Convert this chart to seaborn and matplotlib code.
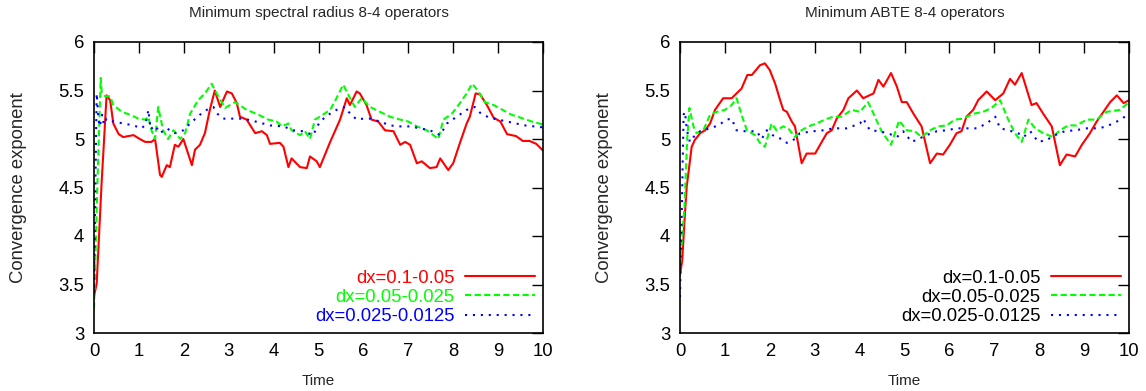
import matplotlib
matplotlib.use("Agg")
import matplotlib.pyplot as plt
import pandas as pd
import seaborn as sns

# ---- data: convergence exponent vs time ----
series_labels = ["dx=0.1-0.05", "dx=0.05-0.025", "dx=0.025-0.0125"]
series_colors = ["#ff0000", "#00ff00", "#0000ff"]
x_ticks = [0, 1, 2, 3, 4, 5, 6, 7, 8, 9, 10]
y_ticks = [3, 3.5, 4, 4.5, 5, 5.5, 6]
y_tick_labels = ["3", "3.5", "4", "4.5", "5", "5.5", "6"]
titles = ["Minimum spectral radius 8-4 operators", "Minimum ABTE 8-4 operators"]

# spectral radius panel
sr_coarse_t = [0, 0.06, 0.17, 0.28, 0.36, 0.43, 0.55, 0.65, 0.88, 1.02, 1.14, 1.28, 1.36, 1.47, 1.51,
               1.62, 1.69, 1.80, 1.88, 1.99, 2.18, 2.25, 2.36, 2.47, 2.58, 2.69, 2.81, 2.96, 3.07, 3.18,
               3.25, 3.40, 3.59, 3.74, 3.85, 3.92, 4.14, 4.22, 4.33, 4.40, 4.59, 4.74, 4.81, 4.96, 5.03,
               5.26, 5.48, 5.63, 5.70, 5.85, 5.92, 6.07, 6.18, 6.33, 6.48, 6.67, 6.82, 6.93, 7.04, 7.19,
               7.30, 7.48, 7.63, 7.71, 7.89, 8.00, 8.15, 8.30, 8.37, 8.50, 8.60, 8.75, 8.90, 9.05, 9.20,
               9.40, 9.55, 9.70, 9.85, 10.0]
sr_coarse_v = [3.38, 3.51, 4.55, 5.45, 5.40, 5.16, 5.05, 5.02, 5.04, 5.00, 4.97, 4.97, 5.00, 4.63, 4.61,
               4.73, 4.71, 4.94, 4.92, 5.00, 4.73, 4.89, 4.94, 5.06, 5.30, 5.50, 5.33, 5.49, 5.47, 5.37,
               5.23, 5.20, 5.06, 5.08, 5.04, 4.95, 4.96, 4.92, 4.71, 4.80, 4.71, 4.70, 4.82, 4.77, 4.71,
               4.97, 5.20, 5.42, 5.35, 5.49, 5.47, 5.35, 5.20, 5.18, 5.09, 5.08, 4.94, 4.97, 4.94, 4.75,
               4.77, 4.70, 4.71, 4.80, 4.68, 4.75, 4.96, 5.16, 5.23, 5.47, 5.46, 5.35, 5.22, 5.18, 5.05,
               5.03, 4.98, 4.98, 4.95, 4.88]

sr_mid_t = [0, 0.08, 0.15, 0.17, 0.25, 0.36, 0.43, 0.62, 0.80, 0.99, 1.14, 1.21, 1.28, 1.36, 1.43,
            1.54, 1.65, 1.77, 1.92, 2.03, 2.14, 2.32, 2.47, 2.62, 2.73, 2.92, 3.14, 3.40, 3.62, 3.88,
            4.07, 4.18, 4.33, 4.40, 4.59, 4.70, 4.81, 4.92, 5.03, 5.26, 5.40, 5.55, 5.67, 5.81, 5.96,
            6.15, 6.37, 6.59, 6.82, 7.00, 7.19, 7.41, 7.67, 7.78, 7.97, 8.15, 8.30, 8.42, 8.55, 8.70,
            8.90, 9.10, 9.30, 9.50, 9.75, 10.0]
sr_mid_v = [3.25, 4.60, 5.63, 5.49, 5.44, 5.44, 5.35, 5.28, 5.25, 5.21, 5.20, 5.23, 5.09, 5.00, 5.33,
            5.09, 5.00, 5.09, 5.00, 5.06, 5.26, 5.40, 5.47, 5.57, 5.47, 5.32, 5.38, 5.30, 5.26, 5.20,
            5.18, 5.13, 5.16, 5.09, 5.04, 5.08, 5.00, 5.20, 5.23, 5.30, 5.42, 5.56, 5.45, 5.33, 5.42,
            5.33, 5.28, 5.23, 5.20, 5.18, 5.13, 5.09, 5.00, 5.20, 5.26, 5.37, 5.47, 5.57, 5.50, 5.38,
            5.35, 5.30, 5.25, 5.22, 5.18, 5.15]

sr_fine_t = [0, 0.03, 0.06, 0.10, 0.13, 0.18, 0.22, 0.28, 0.43, 0.65, 0.88, 1.06, 1.15, 1.21, 1.26,
             1.36, 1.47, 1.62, 1.80, 1.99, 2.14, 2.36, 2.51, 2.66, 2.75, 2.88, 3.10, 3.33, 3.60, 3.92,
             4.22, 4.44, 4.66, 4.88, 5.03, 5.22, 5.40, 5.59, 5.67, 5.85, 6.00, 6.15, 6.37, 6.59, 6.82,
             7.04, 7.26, 7.48, 7.71, 7.86, 8.08, 8.30, 8.48, 8.60, 8.80, 9.00, 9.30, 9.60, 10.0]
sr_fine_v = [3.47, 4.50, 5.47, 5.20, 5.13, 5.25, 5.15, 5.21, 5.18, 5.16, 5.14, 5.11, 5.15, 5.30, 5.10,
             5.14, 5.06, 5.11, 5.06, 5.09, 5.16, 5.25, 5.30, 5.33, 5.26, 5.21, 5.21, 5.21, 5.18, 5.14,
             5.13, 5.09, 5.08, 5.04, 5.18, 5.25, 5.30, 5.33, 5.28, 5.20, 5.21, 5.21, 5.18, 5.14, 5.13,
             5.13, 5.11, 5.09, 5.04, 5.16, 5.23, 5.30, 5.33, 5.27, 5.22, 5.20, 5.17, 5.14, 5.12]

# ABTE panel
ab_coarse_t = [0, 0.05, 0.11, 0.15, 0.26, 0.33, 0.45, 0.56, 0.67, 0.78, 0.96, 1.15, 1.37, 1.50, 1.60,
               1.78, 1.89, 2.00, 2.12, 2.23, 2.30, 2.38, 2.49, 2.56, 2.71, 2.82, 3.01, 3.12, 3.27, 3.38,
               3.49, 3.64, 3.75, 3.94, 4.08, 4.31, 4.42, 4.53, 4.70, 4.83, 4.94, 5.05, 5.20, 5.38, 5.57,
               5.72, 5.86, 6.01, 6.16, 6.27, 6.38, 6.53, 6.64, 6.83, 7.02, 7.20, 7.35, 7.46, 7.61, 7.83,
               7.94, 8.09, 8.28, 8.46, 8.61, 8.80, 8.95, 9.13, 9.28, 9.43, 9.58, 9.73, 9.88, 10.0]
ab_coarse_v = [3.60, 3.75, 4.23, 4.51, 4.92, 4.99, 5.06, 5.09, 5.16, 5.30, 5.42, 5.42, 5.52, 5.66, 5.66,
               5.76, 5.78, 5.71, 5.57, 5.40, 5.30, 5.28, 5.18, 5.13, 4.75, 4.85, 4.85, 4.94, 5.06, 5.09,
               5.21, 5.30, 5.42, 5.50, 5.42, 5.47, 5.61, 5.54, 5.68, 5.54, 5.38, 5.38, 5.26, 5.13, 4.75,
               4.85, 4.84, 4.94, 5.06, 5.08, 5.23, 5.30, 5.40, 5.49, 5.40, 5.47, 5.62, 5.56, 5.68, 5.35,
               5.37, 5.26, 5.13, 4.73, 4.84, 4.82, 4.94, 5.06, 5.18, 5.28, 5.38, 5.45, 5.37, 5.40]

ab_mid_t = [0, 0.10, 0.16, 0.21, 0.30, 0.37, 0.52, 0.67, 0.82, 1.00, 1.15, 1.26, 1.37, 1.49, 1.67,
            1.78, 1.89, 2.04, 2.15, 2.30, 2.41, 2.56, 2.67, 2.86, 3.04, 3.23, 3.41, 3.60, 3.82, 4.01,
            4.19, 4.34, 4.49, 4.70, 4.88, 5.05, 5.23, 5.38, 5.57, 5.75, 5.94, 6.12, 6.31, 6.53, 6.75,
            6.94, 7.13, 7.31, 7.46, 7.61, 7.76, 7.91, 8.09, 8.31, 8.46, 8.65, 8.83, 9.06, 9.28, 9.50,
            9.80, 10.0]
ab_mid_v = [3.70, 4.30, 5.00, 5.32, 5.13, 5.06, 5.09, 5.25, 5.28, 5.30, 5.35, 5.42, 5.25, 5.09, 5.04,
            4.96, 4.92, 5.16, 5.09, 5.13, 5.11, 5.02, 5.08, 5.13, 5.16, 5.20, 5.23, 5.23, 5.30, 5.28,
            5.38, 5.23, 5.08, 4.94, 5.19, 5.09, 5.08, 5.02, 5.09, 5.13, 5.14, 5.20, 5.21, 5.26, 5.28,
            5.32, 5.40, 5.20, 5.06, 4.97, 5.20, 5.11, 5.06, 5.02, 5.09, 5.14, 5.14, 5.20, 5.20, 5.28,
            5.30, 5.38]

ab_fine_t = [0, 0.05, 0.08, 0.11, 0.15, 0.22, 0.30, 0.45, 0.67, 0.85, 1.04, 1.15, 1.26, 1.45, 1.71,
             1.82, 1.93, 2.12, 2.27, 2.38, 2.56, 2.67, 2.97, 3.19, 3.41, 3.71, 4.01, 4.08, 4.23, 4.45,
             4.68, 4.83, 4.97, 5.16, 5.31, 5.49, 5.72, 5.94, 6.16, 6.38, 6.61, 6.83, 7.02, 7.13, 7.31,
             7.53, 7.65, 7.80, 7.98, 8.17, 8.35, 8.57, 8.80, 9.06, 9.32, 9.50, 9.73, 9.91, 10.0]
ab_fine_v = [3.37, 4.50, 5.25, 5.28, 5.10, 4.97, 5.02, 5.08, 5.11, 5.14, 5.20, 5.21, 5.09, 5.08, 5.08,
             5.00, 5.09, 5.02, 5.00, 4.96, 5.00, 5.06, 5.08, 5.09, 5.11, 5.11, 5.16, 5.21, 5.09, 5.08,
             5.05, 5.02, 5.08, 4.97, 5.00, 5.04, 5.08, 5.09, 5.11, 5.11, 5.11, 5.16, 5.23, 5.11, 5.09,
             5.06, 5.02, 5.08, 4.97, 4.99, 5.04, 5.08, 5.09, 5.11, 5.11, 5.13, 5.18, 5.23, 5.21]


def panel_frame(times, values):
    rows = []
    for label, t, v in zip(series_labels, times, values):
        rows.append(pd.DataFrame({"Time": t, "exponent": v, "run": label}))
    return pd.concat(rows, ignore_index=True)


sr_df = panel_frame([sr_coarse_t, sr_mid_t, sr_fine_t], [sr_coarse_v, sr_mid_v, sr_fine_v])
ab_df = panel_frame([ab_coarse_t, ab_mid_t, ab_fine_t], [ab_coarse_v, ab_mid_v, ab_fine_v])

# ---- styling ----
sns.set_theme(style="white")
plt.rcParams["font.family"] = ["Liberation Sans", "DejaVu Sans"]
FS = 13.3        # tick labels, y label, legend
FS_SMALL = 11.0  # title and x label

palette = dict(zip(series_labels, series_colors))
dash_map = {series_labels[0]: "", series_labels[1]: (3.0, 1.6), series_labels[2]: (1.0, 2.8)}

fig = plt.figure(figsize=(11.46, 3.91), dpi=100)
W, H = 1146, 391
axes = [fig.add_axes([94 / W, 58 / H, 449 / W, 291 / H]),
        fig.add_axes([680 / W, 58 / H, 449 / W, 291 / H])]

for ax, df, title, colored in zip(axes, [sr_df, ab_df], titles, [True, False]):
    sns.lineplot(data=df, x="Time", y="exponent", hue="run", style="run",
                 hue_order=series_labels, style_order=series_labels,
                 palette=palette, dashes=dash_map, estimator=None, sort=True,
                 linewidth=1.5, ax=ax, legend=False)
    ax.set_xlim(0, 10)
    ax.set_ylim(3, 6)
    ax.set_xticks(x_ticks)
    ax.set_xticklabels([str(v) for v in x_ticks])
    ax.set_yticks(y_ticks)
    ax.set_yticklabels(y_tick_labels)
    ax.tick_params(direction="in", length=8, width=1, top=True, right=True,
                   labelsize=FS, colors="black", pad=7)
    for sp in ax.spines.values():
        sp.set_visible(True)
        sp.set_color("black")
        sp.set_linewidth(1.2)
    ax.set_xlabel("Time", fontsize=FS_SMALL)
    ax.set_ylabel("Convergence exponent", fontsize=FS)
    ax.xaxis.set_label_coords(0.5, -0.14)
    ax.yaxis.set_label_coords(-0.15, 0.5)
    ax.set_title(title, fontsize=FS_SMALL, y=1.085, pad=0)

    handles = ax.get_lines()[:3]
    leg = ax.legend(handles, series_labels, loc="lower right",
                    bbox_to_anchor=((535 - 94) / 449, 8 / 291),
                    frameon=False, markerfirst=False, fontsize=FS,
                    handlelength=3.8, handletextpad=0.55, labelspacing=0.12,
                    borderpad=0, borderaxespad=0)
    for txt, col in zip(leg.get_texts(), series_colors):
        txt.set_color(col if colored else "black")

fig.savefig("out.png", dpi=100)
